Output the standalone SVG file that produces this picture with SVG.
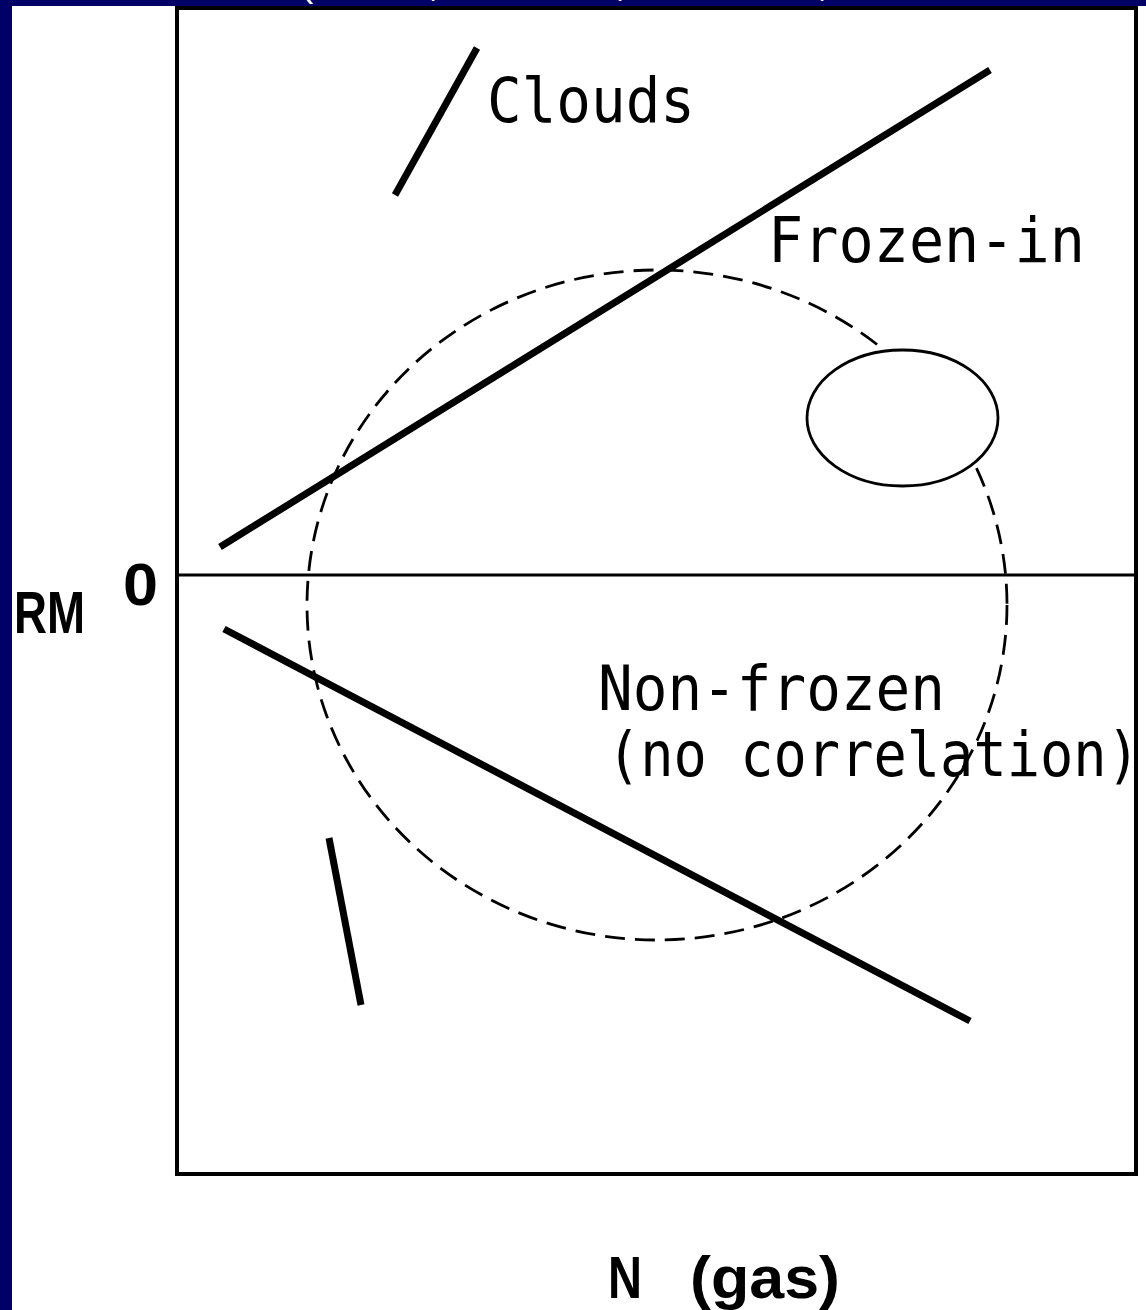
<svg xmlns="http://www.w3.org/2000/svg" width="1146" height="1310" viewBox="0 0 1146 1310">
  <style>
    .lbl { font-family: "DejaVu Sans Mono", "Liberation Mono", monospace; font-size: 63px; fill: #000; }
    .bold { font-family: "Liberation Sans", "DejaVu Sans", sans-serif; font-weight: bold; fill: #000; }
    .thick { stroke: #000; stroke-width: 7; stroke-linecap: butt; fill: none; }
    .frag { font-family: "Liberation Sans", sans-serif; font-size: 40px; fill: #fff; }
  </style>
  <rect x="0" y="0" width="1146" height="1310" fill="#fff"/>
  <g id="frame">
    <rect x="0" y="0" width="12" height="1310" fill="#000066"/>
    <rect x="0" y="0" width="1146" height="6" fill="#000066"/>
    <text class="frag" x="300" y="-4">(</text>
    <text class="frag" x="428" y="-4">,</text>
    <text class="frag" x="615" y="-4">,</text>
    <text class="frag" x="817" y="-4">,</text>
  </g>
  <g id="plot-box">
    <rect x="177" y="8" width="959" height="1166" fill="none" stroke="#000" stroke-width="4"/>
    <line x1="177" y1="575" x2="1138" y2="575" stroke="#000" stroke-width="3"/>
  </g>
  <g id="non-frozen-region">
    <ellipse cx="657" cy="605" rx="350" ry="335" fill="none" stroke="#000" stroke-width="2.8" stroke-dasharray="20 10"/>
  </g>
  <g id="connectors">
    <line class="thick" x1="220" y1="547" x2="990" y2="70"/>
    <line class="thick" x1="224" y1="629" x2="970" y2="1021"/>
    <line class="thick" x1="395" y1="195" x2="477" y2="48"/>
    <line class="thick" x1="329" y1="838" x2="361" y2="1005"/>
  </g>
  <g id="cloud-ellipse">
    <ellipse cx="902.5" cy="418" rx="95.5" ry="68" fill="#fff" stroke="#000" stroke-width="2.8"/>
  </g>
  <g id="labels">
    <text class="lbl" x="487" y="122" textLength="208" lengthAdjust="spacingAndGlyphs">Clouds</text>
    <text class="lbl" x="768" y="262" textLength="317" lengthAdjust="spacingAndGlyphs">Frozen-in</text>
    <text class="lbl" x="598" y="710" textLength="347" lengthAdjust="spacingAndGlyphs">Non-frozen</text>
    <text class="lbl" x="607" y="776" textLength="533" lengthAdjust="spacingAndGlyphs">(no correlation)</text>
  </g>
  <g id="axis-labels">
    <text class="bold" x="14" y="633" font-size="60" textLength="71" lengthAdjust="spacingAndGlyphs">RM</text>
    <text class="bold" x="123" y="605" font-size="60" textLength="35" lengthAdjust="spacingAndGlyphs">0</text>
    <text class="bold" x="608" y="1298" font-size="60" textLength="34" lengthAdjust="spacingAndGlyphs">N</text>
    <text class="bold" x="690" y="1298" font-size="60" textLength="150" lengthAdjust="spacingAndGlyphs">(gas)</text>
  </g>
</svg>
